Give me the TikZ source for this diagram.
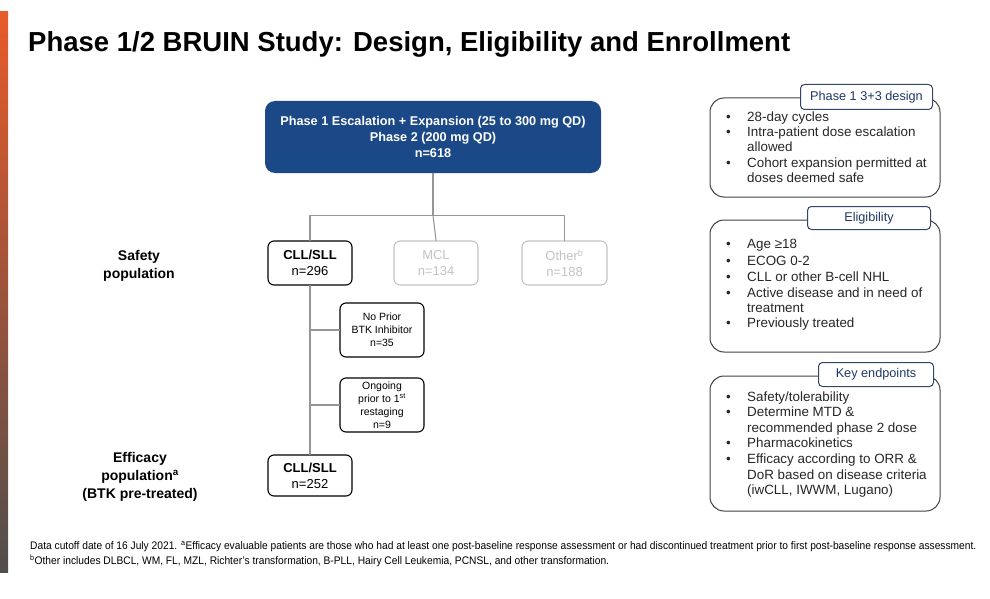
\documentclass[tikz,border=0pt]{standalone}
\usepackage{fontspec}
\setmainfont{Liberation Sans}
\newfontfamily\narrowfont{Liberation Sans}[FakeStretch=0.93]
\usetikzlibrary{positioning}
\definecolor{navy}{RGB}{27,72,134}
\definecolor{tabblue}{RGB}{31,56,100}
\definecolor{linkgray}{RGB}{150,150,150}
\definecolor{fadegray}{RGB}{195,195,195}
\definecolor{barorange}{RGB}{232,90,42}
\definecolor{barpink}{RGB}{242,178,150}
\definecolor{bargray}{RGB}{80,78,76}
\begin{document}
\begin{tikzpicture}[x=1pt, y=-1pt, line join=round, line cap=round,
	lnk/.style={draw=linkgray, line width=1.1pt},
	popbox/.style={draw, rounded corners=6pt, line width=1.1pt, minimum width=84pt, align=center, inner sep=2pt},
	popfont/.style={font=\fontsize{13}{16}\selectfont},
	subfont/.style={font=\fontsize{10.5}{13}\selectfont},
	panel/.style={draw=black!75, line width=1pt, rounded corners=14pt},
	tab/.style={draw=tabblue!80!gray, line width=1pt, fill=white, rounded corners=4pt, text=tabblue, font=\fontsize{12.7}{14}\selectfont, anchor=north west, inner sep=0pt},
	itm/.style={anchor=west, inner sep=0pt, text height=1.5ex, text depth=0.3ex, font=\fontsize{13.4}{15}\selectfont, text=black!85},
	lbl/.style={align=center, font=\bfseries\fontsize{14}{18}\selectfont}]
\useasboundingbox (0,0) rectangle (990,599);
\shade[top color=barorange, middle color=barpink, bottom color=bargray] (0,12) rectangle (8,572);

\node[anchor=base west, inner sep=0pt, font=\bfseries\fontsize{27.5}{30}\selectfont] (title) at (28,52) {Phase 1/2 BRUIN Study: Design, Eligibility and Enrollment};

% flow chart
\node[fill=navy, rounded corners=10pt, minimum width=336pt, minimum height=72pt, align=center, text=white, font=\bfseries\fontsize{12.7}{16}\selectfont] (all) at (433,137)
	{Phase 1 Escalation + Expansion (25 to 300 mg QD)\\Phase 2 (200 mg QD)\\n=618};
\node[popbox, popfont, minimum height=44pt] (cll) at (310,263) {\textbf{CLL/SLL}\\n=296};
\node[popbox, popfont, minimum height=44pt, draw=fadegray, text=fadegray] (mcl) at (436,263) {MCL\\n=134};
\node[popbox, popfont, minimum height=44pt, minimum width=85pt, draw=fadegray, text=fadegray] (oth) at (564.5,263) {Other\textsuperscript{b}\\n=188};
\node[popbox, subfont, minimum height=54pt] (nobtk) at (382,330) {No Prior\\BTK Inhibitor\\n=35};
\node[popbox, subfont, minimum height=54pt] (ongo) at (382,405) {Ongoing\\prior to 1\textsuperscript{st}\\restaging\\n=9};
\node[popbox, popfont, minimum height=41pt] (eff) at (310,475.5) {\textbf{CLL/SLL}\\n=252};

\path (all.south) ++(0,42) coordinate (split);
\draw[lnk] (all.south) -- (split);
\draw[lnk] (cll.north) |- (split) -| (oth.north);
\draw[lnk] (split) -- (mcl.north);
\draw[lnk] (cll.south) -- (eff.north);
\foreach \b in {nobtk,ongo}{
	\draw[lnk] (\b.west) -- (\b.west -| cll.south);
}

\node[lbl] (safety) at (139,266) {Safety\\population};
\node[lbl] (efficacy) at (140,477) {Efficacy\\population\textsuperscript{a}\\(BTK pre-treated)};

% right panels
\draw[panel] (710,98) rectangle (940,197);
\node[tab, minimum width=132pt, minimum height=25pt] (tabdesign) at (800,84) {Phase 1 3+3 design};
\draw[panel] (710,220) rectangle (940,352);
\node[tab, minimum width=123pt, minimum height=23pt] (tabelig) at (807,206) {Eligibility};
\draw[panel] (710,376) rectangle (940,511);
\node[tab, minimum width=115pt, minimum height=24pt] (tabkey) at (818,362) {Key endpoints};

\foreach \yy in {118,133,164,245,262,278,294,324,398,413,444,460}{
	\node[itm] at (726,\yy) {\textbullet};
}
\foreach \yy/\txt in {118/28-day cycles, 133/Intra-patient dose escalation, 148/allowed,
	164/Cohort expansion permitted at, 179/doses deemed safe,
	245/Age ≥18, 262/ECOG 0-2, 278/CLL or other B-cell NHL, 294/Active disease and in need of,
	309/treatment, 324/Previously treated,
	398/{Safety/tolerability}, 413/Determine MTD \&, 429/recommended phase 2 dose,
	444/Pharmacokinetics, 460/Efficacy according to ORR \&, 476/DoR based on disease criteria,
	491/{(iwCLL, IWWM, Lugano)}}{
	\node[itm] at (747,\yy) {\txt};
}

% footnotes
\node[anchor=base west, inner sep=0pt, font=\narrowfont\fontsize{11}{13}\selectfont] (fn1) at (30,549)
	{Data cutoff date of 16 July 2021. \textsuperscript{a}Efficacy evaluable patients are those who had at least one post-baseline response assessment or had discontinued treatment prior to first post-baseline response assessment.};
\node[anchor=base west, inner sep=0pt, font=\narrowfont\fontsize{11}{13}\selectfont] (fn2) at (30,564)
	{\textsuperscript{b}Other includes DLBCL, WM, FL, MZL, Richter’s transformation, B-PLL, Hairy Cell Leukemia, PCNSL, and other transformation.};
\end{tikzpicture}
\end{document}
